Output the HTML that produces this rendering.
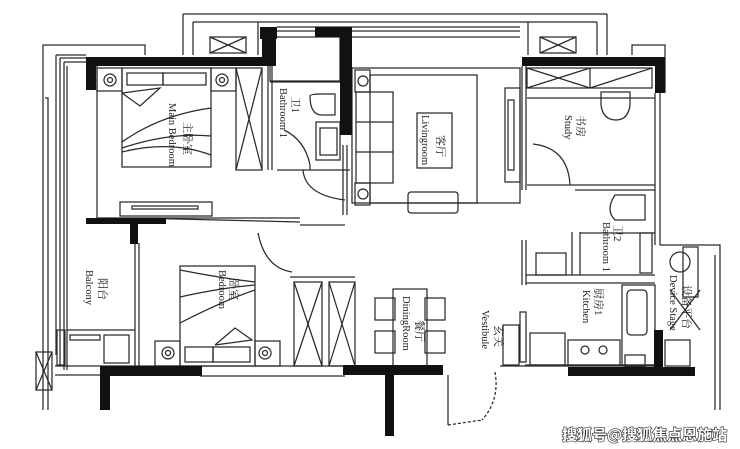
<!DOCTYPE html>
<html><head><meta charset="utf-8"><style>
html,body{margin:0;padding:0;background:#fff}
svg{display:block}
text{font-family:"Liberation Serif","Noto Serif CJK SC",serif;fill:#222}
</style></head><body>
<svg width="740" height="449" viewBox="0 0 740 449" xmlns="http://www.w3.org/2000/svg">
<g fill="none" stroke="#2a2a2a" stroke-width="1.25">
<polyline points="145,55 145,45 43,45 43,410"/>
<polyline points="48,410 48,98 45,98"/>
<line x1="56" y1="55" x2="56" y2="355"/><line x1="60" y1="58" x2="60" y2="365"/><line x1="64" y1="62" x2="64" y2="370"/><line x1="67" y1="66" x2="67" y2="370"/>
<line x1="56" y1="55" x2="86" y2="55"/><line x1="60" y1="58" x2="86" y2="58"/><line x1="64" y1="62" x2="86" y2="62"/>
<line x1="183" y1="14" x2="607" y2="14"/><line x1="183" y1="14" x2="183" y2="55"/><line x1="607" y1="14" x2="607" y2="55"/>
<line x1="193" y1="22" x2="597" y2="22"/><line x1="193" y1="22" x2="193" y2="55"/><line x1="597" y1="22" x2="597" y2="55"/>
<line x1="277" y1="27" x2="520" y2="27"/><line x1="277" y1="31" x2="520" y2="31"/><line x1="352" y1="37" x2="520" y2="37"/>
<rect x="210" y="37" width="36" height="16"/><line x1="210" y1="37" x2="246" y2="53"/><line x1="246" y1="37" x2="210" y2="53"/>
<rect x="540" y="37" width="36" height="16"/><line x1="540" y1="37" x2="576" y2="53"/><line x1="576" y1="37" x2="540" y2="53"/>
<line x1="258" y1="22" x2="258" y2="55"/><line x1="528" y1="22" x2="528" y2="55"/>
<polyline points="632,55 632,45 665,45 665,93"/>
<line x1="655" y1="93" x2="655" y2="245"/><line x1="660" y1="93" x2="660" y2="245"/>
<polyline points="660,245 690,245 720,245 720,410"/><line x1="715" y1="255" x2="715" y2="410"/>
<rect x="683" y="247" width="15" height="50"/>
<line x1="97" y1="66" x2="97" y2="218"/><line x1="97" y1="218" x2="300" y2="218"/>
<rect x="97" y="68" width="25" height="23"/><circle cx="110" cy="80" r="6"/><circle cx="110" cy="80" r="2.5"/>
<rect x="211" y="68" width="25" height="23"/><circle cx="222" cy="80" r="6"/><circle cx="222" cy="80" r="2.5"/>
<rect x="122" y="68" width="89" height="99"/><rect x="127" y="73" width="36" height="12"/><rect x="163" y="73" width="43" height="12"/>
<polyline points="122,93 140,106 160,88 122,93"/>
<path d="M122 142 Q160 115 211 108 M122 148 Q170 132 211 136 M122 152 Q170 140 211 155"/>
<rect x="236" y="68" width="26" height="102"/><line x1="236" y1="68" x2="262" y2="170"/><line x1="262" y1="68" x2="236" y2="170"/>
<rect x="120" y="202" width="92" height="14"/><rect x="132" y="206" width="66" height="3"/>
<line x1="268" y1="37" x2="268" y2="170"/><line x1="272" y1="37" x2="272" y2="170"/>
<rect x="270" y="37" width="70" height="44"/><line x1="270" y1="82" x2="340" y2="82"/>
<path d="M310 96 Q310 115 322 115 L335 115 L335 94 L322 94 Q310 94 310 96Z"/><rect x="316" y="122" width="24" height="38"/><rect x="320" y="128" width="17" height="27"/>
<path d="M284 130 Q305 140 310 165"/><line x1="310" y1="165" x2="310" y2="170"/>
<line x1="277" y1="170" x2="350" y2="170"/>
<path d="M303 170 Q305 195 345 200"/><line x1="343" y1="145" x2="343" y2="215"/><line x1="347" y1="145" x2="347" y2="215"/>
<rect x="352" y="68" width="168" height="135"/>
<rect x="355" y="70" width="15" height="22"/><circle cx="363" cy="81" r="5"/>
<rect x="355" y="183" width="15" height="22"/><circle cx="363" cy="194" r="5"/>
<rect x="356" y="92" width="37" height="91"/><line x1="393" y1="122" x2="356" y2="122"/><line x1="393" y1="152" x2="356" y2="152"/>
<rect x="370" y="75" width="107" height="128"/>
<rect x="417" y="113" width="35" height="55"/>
<rect x="408" y="192" width="50" height="21" rx="3"/>
<rect x="505" y="88" width="15" height="94"/><rect x="508" y="100" width="6" height="70"/>
<line x1="522" y1="66" x2="522" y2="190"/><line x1="526" y1="66" x2="526" y2="190"/>
<rect x="527" y="68" width="125" height="20"/><line x1="590" y1="68" x2="590" y2="88"/>
<line x1="527" y1="68" x2="590" y2="88"/><line x1="590" y1="68" x2="527" y2="88"/><line x1="590" y1="88" x2="652" y2="68"/>
<line x1="527" y1="98" x2="655" y2="98"/>
<path d="M601 92 L630 92 L630 105 Q628 120 616 120 Q603 120 601 105Z"/>
<path d="M533 144 Q568 148 570 185"/><line x1="527" y1="185" x2="655" y2="185"/><line x1="575" y1="190" x2="655" y2="190"/>
<path d="M615 195 L645 195 L645 220 L615 220 Q605 210 615 195Z"/>
<line x1="572" y1="232" x2="572" y2="275"/><line x1="580" y1="232" x2="580" y2="275"/>
<line x1="580" y1="233" x2="655" y2="233"/><rect x="640" y="233" width="12" height="40"/>
<line x1="522" y1="240" x2="522" y2="285"/><line x1="526" y1="240" x2="526" y2="285"/>
<rect x="536" y="253" width="30" height="22"/><line x1="526" y1="275" x2="655" y2="275"/><line x1="526" y1="283" x2="655" y2="283"/>
<rect x="622" y="285" width="33" height="80"/><rect x="627" y="290" width="20" height="45" rx="4"/>
<rect x="568" y="340" width="52" height="25"/><circle cx="585" cy="350" r="4"/><circle cx="603" cy="350" r="4"/>
<rect x="530" y="333" width="35" height="32"/><line x1="525" y1="365" x2="660" y2="365"/>
<rect x="625" y="355" width="20" height="12"/>
<rect x="520" y="312" width="6" height="50"/>
<rect x="503" y="325" width="16" height="40"/><line x1="500" y1="366" x2="660" y2="366"/>
<path d="M495 372 Q500 400 482 420" stroke-dasharray="3 2"/><line x1="448" y1="375" x2="448" y2="425"/><line x1="448" y1="425" x2="482" y2="420" stroke-dasharray="3 2"/>
<circle cx="680" cy="262" r="10"/><line x1="670" y1="290" x2="700" y2="330"/><line x1="700" y1="290" x2="670" y2="330"/>
<rect x="665" y="340" width="25" height="26"/>
<line x1="135" y1="218" x2="300" y2="222"/><line x1="300" y1="225" x2="345" y2="225"/>
<path d="M258 233 Q265 268 292 272"/>
<line x1="135" y1="225" x2="135" y2="366"/><line x1="139" y1="243" x2="139" y2="366"/>
<rect x="180" y="266" width="75" height="100"/><rect x="185" y="347" width="28" height="15"/><rect x="213" y="347" width="37" height="15"/>
<polyline points="215,345 235,328 252,340 215,345"/>
<path d="M180 270 Q220 278 255 282 M180 297 Q220 288 255 285 M180 323 Q225 300 255 290"/>
<rect x="155" y="341" width="25" height="25"/><circle cx="168" cy="353" r="6"/><circle cx="168" cy="353" r="2.5"/>
<rect x="255" y="341" width="25" height="25"/><circle cx="265" cy="353" r="6"/><circle cx="265" cy="353" r="2.5"/>
<rect x="294" y="282" width="28" height="84"/><line x1="294" y1="282" x2="322" y2="366"/><line x1="322" y1="282" x2="294" y2="366"/>
<rect x="329" y="282" width="26" height="84"/><line x1="329" y1="282" x2="355" y2="366"/><line x1="355" y1="282" x2="329" y2="366"/>
<line x1="290" y1="277" x2="355" y2="277"/>
<line x1="67" y1="330" x2="135" y2="330"/><rect x="70" y="335" width="30" height="5"/>
<rect x="104" y="335" width="25" height="28"/><rect x="57" y="330" width="8" height="35"/>
<rect x="36" y="352" width="16" height="38"/><line x1="36" y1="352" x2="52" y2="390"/><line x1="52" y1="352" x2="36" y2="390"/>
<line x1="55" y1="366" x2="345" y2="366"/><line x1="55" y1="375" x2="100" y2="375"/><line x1="200" y1="376" x2="345" y2="376"/>
<rect x="393" y="289" width="34" height="77"/>
<rect x="375" y="298" width="20" height="22"/><rect x="425" y="298" width="20" height="22"/>
<rect x="375" y="331" width="20" height="22"/><rect x="425" y="331" width="20" height="22"/>
</g>
<g fill="#111">
<rect x="86" y="57" width="190" height="9"/><rect x="86" y="57" width="10" height="33"/>
<rect x="260" y="27" width="17" height="12"/><rect x="262" y="27" width="14" height="39"/>
<rect x="315" y="27" width="37" height="10"/><rect x="340" y="27" width="12" height="108"/>
<rect x="522" y="57" width="143" height="9"/><rect x="655" y="57" width="10" height="36"/>
<rect x="86" y="218" width="80" height="6"/><rect x="130" y="224" width="8" height="20"/>
<rect x="100" y="366" width="102" height="10"/><rect x="100" y="376" width="10" height="34"/>
<rect x="343" y="365" width="100" height="10"/><rect x="385" y="375" width="9" height="61"/>
<rect x="568" y="367" width="127" height="9"/><rect x="654" y="330" width="9" height="37"/>
</g>
<g font-size="10.5">
<text transform="translate(169,103) rotate(90)">Main Bedroom</text>
<text transform="translate(184,122) rotate(90)" font-size="11">主卧室</text>
<text transform="translate(280,88) rotate(90)">Bathroom 1</text>
<text transform="translate(292,97) rotate(90)">卫1</text>
<text transform="translate(422,115) rotate(90)">Livingroom</text>
<text transform="translate(437,135) rotate(90)" font-size="11">客厅</text>
<text transform="translate(565,115) rotate(90)">Study</text>
<text transform="translate(577,115) rotate(90)" font-size="11">书房</text>
<text transform="translate(603,222) rotate(90)">Bathroom 1</text>
<text transform="translate(614,225) rotate(90)" font-size="11">卫2</text>
<text transform="translate(583,290) rotate(90)">Kitchen</text>
<text transform="translate(595,288) rotate(90)" font-size="11">厨房1</text>
<text transform="translate(670,275) rotate(90)">Device Stage</text>
<text transform="translate(683,285) rotate(90)" font-size="11">设备平台</text>
<text transform="translate(482,310) rotate(90)">Vestibule</text>
<text transform="translate(495,325) rotate(90)" font-size="11">玄关</text>
<text transform="translate(403,296) rotate(90)">DiningRoom</text>
<text transform="translate(416,320) rotate(90)" font-size="11">餐厅</text>
<text transform="translate(86,270) rotate(90)">Balcony</text>
<text transform="translate(99,278) rotate(90)" font-size="11">阳台</text>
<text transform="translate(219,270) rotate(90)">Bedroom</text>
<text transform="translate(230,278) rotate(90)" font-size="11">卧室</text>
</g>
<text x="562" y="440" font-size="15" font-weight="bold" style="font-family:'Noto Sans CJK SC',sans-serif;fill:#fff;stroke:#333;stroke-width:1.3;paint-order:stroke">搜狐号@搜狐焦点恩施站</text>
</svg>
</body></html>
